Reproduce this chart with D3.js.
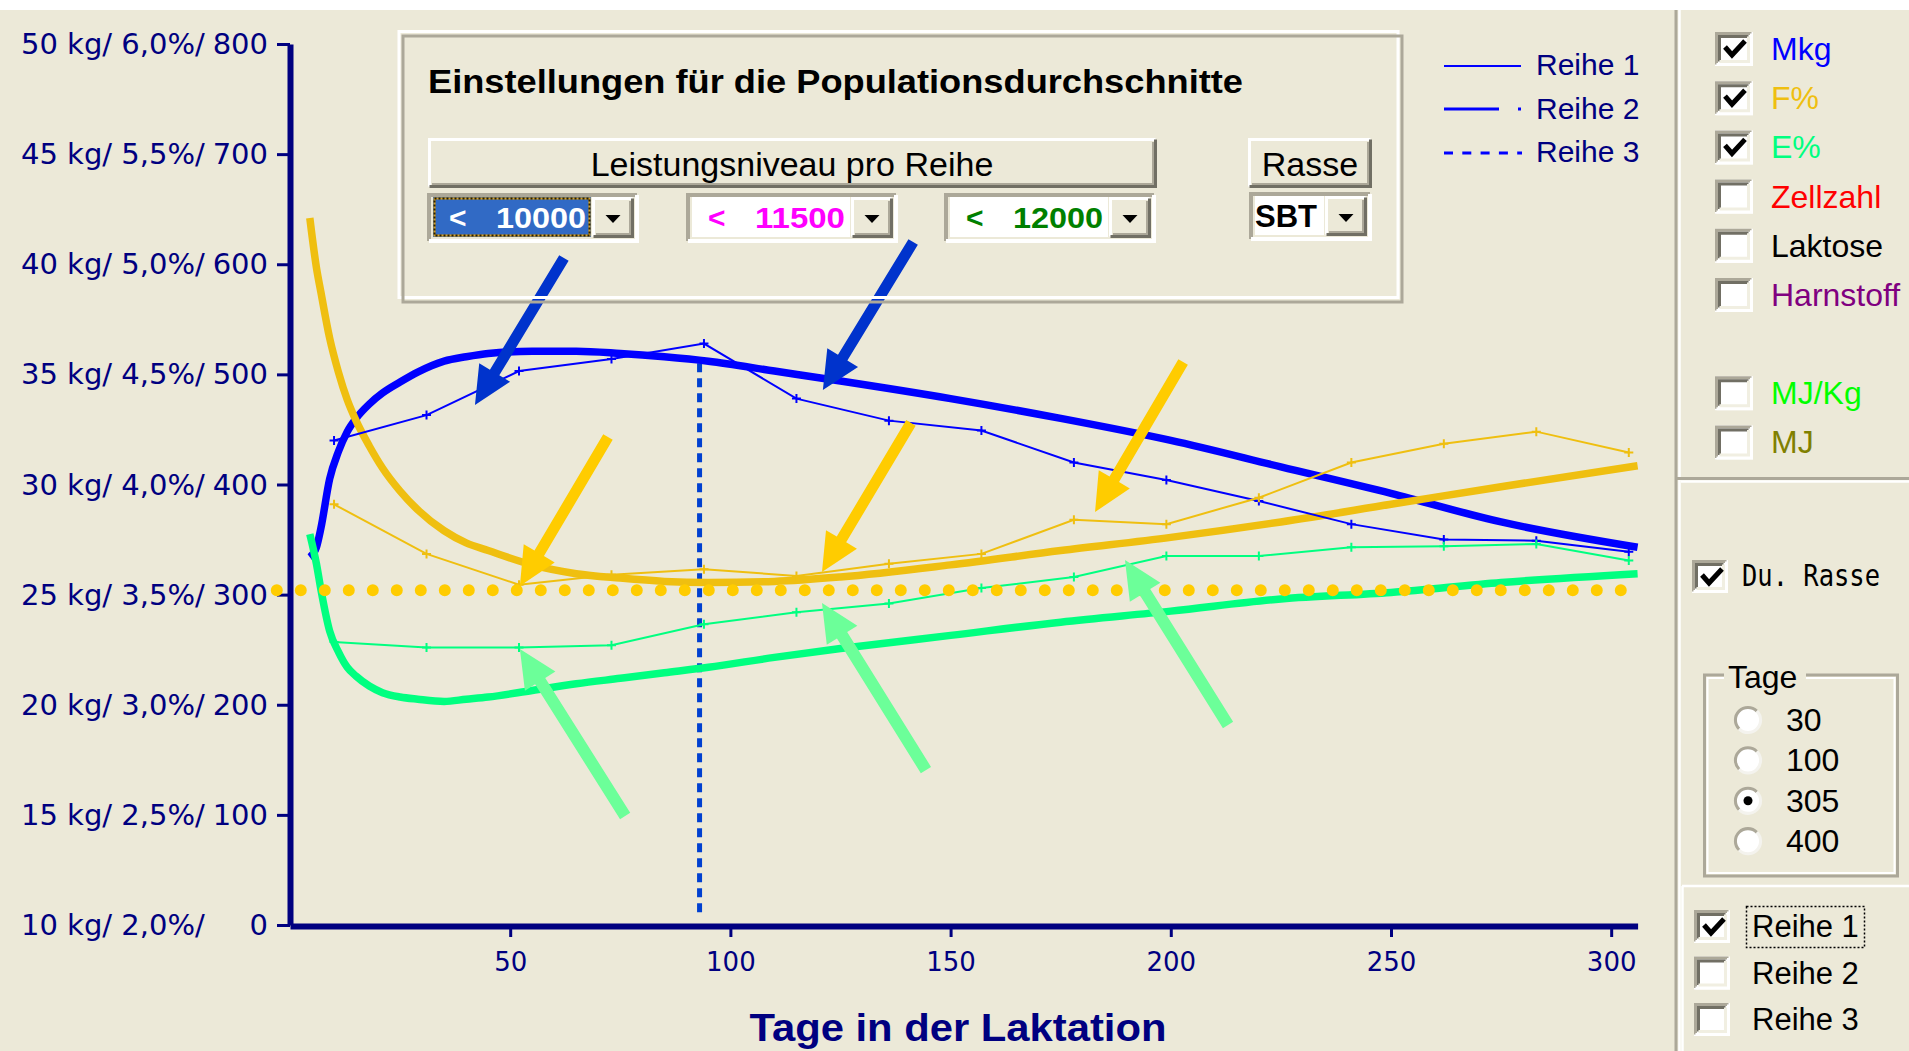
<!DOCTYPE html>
<html>
<head>
<meta charset="utf-8">
<script src="https://cdn.jsdelivr.net/npm/d3@7"></script>
<style>
  body { margin: 0; background: #ECE9D8; }
  svg { display: block; }
</style>
</head>
<body>
<div id="chart"></div>
<script>
// Reihe 1 sample days (every 21 days) and its values
const r1Days = [10, 31, 52, 73, 94, 115, 136, 157, 178, 199, 220, 241, 262, 283, 304];
const mkgR1  = [32.0, 33.15, 35.15, 35.7, 36.4, 33.9, 32.9, 32.45, 31.0, 30.2, 29.25, 28.2, 27.5, 27.45, 26.95];
const fatR1  = [3.91, 3.685, 3.545, 3.59, 3.615, 3.585, 3.64, 3.685, 3.84, 3.82, 3.94, 4.10, 4.185, 4.24, 4.145];
const protR1 = [3.285, 3.26, 3.26, 3.27, 3.365, 3.42, 3.46, 3.53, 3.58, 3.675, 3.675, 3.715, 3.72, 3.73, 3.655];

// breed average (Du. Rasse) curves
const popDays = [4.5, 6, 7, 9, 11, 13, 15, 18, 21, 25, 29, 35, 40, 45, 55, 65, 75, 85, 95, 110, 125, 150, 175, 200, 225, 250, 275, 306];
const mkgPop  = [26.7, 27.15, 28.0, 30.25, 31.5, 32.4, 33.0, 33.65, 34.15, 34.65, 35.1, 35.6, 35.8, 35.95, 36.05, 36.05, 35.95, 35.8, 35.6, 35.15, 34.7, 33.9, 33.0, 32.0, 30.8, 29.6, 28.3, 27.15];
const fatPop  = [5.21, 4.985, 4.875, 4.665, 4.51, 4.385, 4.29, 4.175, 4.075, 3.97, 3.885, 3.79, 3.735, 3.70, 3.635, 3.595, 3.575, 3.56, 3.555, 3.56, 3.58, 3.635, 3.70, 3.76, 3.83, 3.91, 3.99, 4.085];
const protPop = [3.775, 3.64, 3.525, 3.335, 3.24, 3.17, 3.13, 3.085, 3.055, 3.035, 3.025, 3.015, 3.025, 3.035, 3.065, 3.095, 3.12, 3.145, 3.17, 3.215, 3.255, 3.315, 3.375, 3.425, 3.48, 3.51, 3.555, 3.595];

// breed average fat line and the marked day
const avgFatPct = 3.52;
const avgFatDays = [-3, 305];
const markDay = 93;
const markKg = [10.45, 35.5];

// axis labels
const xTicks = [50, 100, 150, 200, 250, 300];
const yTickNum = [0, 100, 200, 300, 400, 500, 600, 700, 800];
const yTickKg = [10, 15, 20, 25, 30, 35, 40, 45, 50];
const yTickPct = ["2,0%", "2,5%", "3,0%", "3,5%", "4,0%", "4,5%", "5,0%", "5,5%", "6,0%"];

// annotation arrows [day, value, day, value] on the 0..800 scale
const arrowsBlue  = [[62.2, 605.7, 42.0, 472.2], [141.5, 620.2, 121.0, 485.8]];
const arrowsGold  = [[72.2, 443.1, 52.2, 307.8], [141.0, 455.9, 120.8, 320.5], [202.8, 511.2, 182.8, 375.0]];
const arrowsGreen = [[76.1, 99.0, 52.2, 250.6], [144.4, 140.7, 120.8, 292.4], [213.0, 181.6, 189.6, 331.4]];

// controls
const levels = ["10000", "11500", "12000"];
const levelColors = ["#FFFFFF", "#FF00FF", "#008000"];
const legendNames = ["Reihe 1", "Reihe 2", "Reihe 3"];
const seriesNames = ["Mkg", "F%", "E%", "Zellzahl", "Laktose", "Harnstoff", "MJ/Kg", "MJ"];
const seriesColors = ["#0000FF", "#EFBF10", "#00FF80", "#FF0000", "#000000", "#800080", "#00FF00", "#808000"];
const seriesChecked = [true, true, true, false, false, false, false, false];
const tageOptions = ["30", "100", "305", "400"];
const tageSelected = "305";
const reiheNames = ["Reihe 1", "Reihe 2", "Reihe 3"];
const reiheChecked = [true, false, false];

const W = 1909, H = 1051;
const navy = "#000080";
const face = "#ECE9D8", shadow = "#ACA899", dark = "#716F64";

const svg = d3.select("#chart").append("svg")
    .attr("width", W).attr("height", H)
    .style("font-family", "'Liberation Sans', Arial, sans-serif");

svg.append("rect").attr("width", W).attr("height", H).attr("fill", face);
svg.append("rect").attr("width", W).attr("height", 10).attr("fill", "#FFFFFF");

// scales
const x = d3.scaleLinear().domain([0, 306]).range([290, 1637.6]);
const y = d3.scaleLinear().domain([0, 800]).range([925, 44]);
const yKg = d3.scaleLinear().domain([10, 50]).range([925, 44]);
const yPct = d3.scaleLinear().domain([2, 6]).range([925, 44]);

// axes
const yAxis = svg.append("g")
    .attr("transform", `translate(${x(0)},0)`)
    .call(d3.axisLeft(y).tickValues(yTickNum).tickSize(13).tickSizeOuter(0).tickFormat(""));
yAxis.select(".domain").attr("stroke", navy).attr("stroke-width", 6);
yAxis.selectAll(".tick line").attr("stroke", navy).attr("stroke-width", 3);

const xAxis = svg.append("g")
    .attr("transform", `translate(0,${y(0) + 1})`)
    .call(d3.axisBottom(x).tickValues(xTicks).tickSize(11).tickSizeOuter(0));
xAxis.select(".domain").attr("stroke", navy).attr("stroke-width", 6);
xAxis.selectAll(".tick line").attr("stroke", navy).attr("stroke-width", 3);
xAxis.selectAll(".tick text")
    .attr("fill", navy).attr("y", 45).attr("dy", 0)
    .style("font-family", "'DejaVu Sans', sans-serif").style("font-size", "26px");

const yLab = svg.append("g").attr("fill", navy)
    .style("font-family", "'DejaVu Sans', sans-serif").style("font-size", "29px");
yLab.selectAll("text.l").data(yTickNum).join("text").attr("class", "l")
    .attr("x", 21).attr("y", d => y(d) + 10)
    .text((d, i) => `${yTickKg[i]} kg/ ${yTickPct[i]}/`);
yLab.selectAll("text.r").data(yTickNum).join("text").attr("class", "r")
    .attr("x", 268).attr("y", d => y(d) + 10).attr("text-anchor", "end")
    .text(d => d);

svg.append("text")
    .attr("x", 958).attr("y", 1041).attr("text-anchor", "middle")
    .attr("fill", navy).attr("font-weight", "bold").attr("font-size", 38)
    .attr("textLength", 417).attr("lengthAdjust", "spacingAndGlyphs")
    .text("Tage in der Laktation");

// marked day
svg.append("line")
    .attr("x1", x(markDay)).attr("x2", x(markDay))
    .attr("y1", yKg(markKg[1])).attr("y2", yKg(markKg[0]))
    .attr("stroke", "#0040D0").attr("stroke-width", 5).attr("stroke-dasharray", "9 6");

// curves
const mkLine = sc => d3.line().x(d => x(d[0])).y(d => sc(d[1]));
const thickSeries = [[mkgPop, yKg, "#0000FF"], [fatPop, yPct, "#EFBF10"], [protPop, yPct, "#00FF80"]];
thickSeries.forEach(([vals, sc, col]) => {
    svg.append("path")
        .datum(popDays.map((d, i) => [d, vals[i]]))
        .attr("d", mkLine(sc).curve(d3.curveMonotoneX))
        .attr("fill", "none").attr("stroke", col).attr("stroke-width", 7.5);
});

const thinSeries = [[mkgR1, yKg, "#0000FF"], [fatR1, yPct, "#EFBF10"], [protR1, yPct, "#00FF80"]];
thinSeries.forEach(([vals, sc, col]) => {
    const pts = r1Days.map((d, i) => [d, vals[i]]);
    svg.append("path").datum(pts)
        .attr("d", mkLine(sc))
        .attr("fill", "none").attr("stroke", col).attr("stroke-width", 2);
    svg.append("g").selectAll("path").data(pts).join("path")
        .attr("transform", d => `translate(${x(d[0])},${sc(d[1])})`)
        .attr("d", "M-4.5,0H4.5M0,-4.5V4.5")
        .attr("stroke", col).attr("stroke-width", 2);
});

// breed average fat, dotted
svg.append("line")
    .attr("x1", x(avgFatDays[0])).attr("x2", x(avgFatDays[1]))
    .attr("y1", yPct(avgFatPct)).attr("y2", yPct(avgFatPct))
    .attr("stroke", "#FFCC00").attr("stroke-width", 12)
    .attr("stroke-linecap", "round").attr("stroke-dasharray", "0 24");

// arrows
function arrow(a, col, w) {
    const x0 = x(a[0]), y0 = y(a[1]), x1 = x(a[2]), y1 = y(a[3]);
    const L = Math.hypot(x1 - x0, y1 - y0);
    const ux = (x1 - x0) / L, uy = (y1 - y0) / L, nx = -uy, ny = ux;
    const hl = 38, hw = 18;
    const bx = x1 - ux * hl, by = y1 - uy * hl;
    const pts = [
        [x0 + nx * w / 2, y0 + ny * w / 2], [bx + nx * w / 2, by + ny * w / 2],
        [bx + nx * hw, by + ny * hw], [x1, y1], [bx - nx * hw, by - ny * hw],
        [bx - nx * w / 2, by - ny * w / 2], [x0 - nx * w / 2, y0 - ny * w / 2]];
    svg.append("polygon").attr("points", pts.map(p => p.join(",")).join(" ")).attr("fill", col);
}
arrowsBlue.forEach(a => arrow(a, "#0033CC", 11));
arrowsGold.forEach(a => arrow(a, "#FFCC00", 11));
arrowsGreen.forEach(a => arrow(a, "#6CFF99", 12));

// ---- widgets ----
function bevel(g, x0, y0, w, h, tl, br, sw) {
    g.append("path").attr("d", `M${x0},${y0 + h}V${y0}H${x0 + w}`)
        .attr("fill", "none").attr("stroke", tl).attr("stroke-width", sw);
    g.append("path").attr("d", `M${x0},${y0 + h}H${x0 + w}V${y0}`)
        .attr("fill", "none").attr("stroke", br).attr("stroke-width", sw);
}
function button(g, x0, y0, w, h) {
    g.append("rect").attr("x", x0).attr("y", y0).attr("width", w).attr("height", h).attr("fill", face);
    bevel(g, x0 + 1.5, y0 + 1.5, w - 3, h - 3, "#FFFFFF", dark, 3);
    bevel(g, x0 + 4, y0 + 4, w - 8, h - 8, face, shadow, 2);
}
function checkbox(g, x0, y0, w, h, checked) {
    g.append("rect").attr("x", x0).attr("y", y0).attr("width", w).attr("height", h).attr("fill", "#FFFFFF");
    bevel(g, x0 + 1.5, y0 + 1.5, w - 3, h - 3, shadow, "#FFFFFF", 3);
    bevel(g, x0 + 4.5, y0 + 4.5, w - 9, h - 9, dark, "#F1EFE2", 3);
    if (checked) {
        g.append("path")
            .attr("d", `M${x0 + 10},${y0 + 15}L${x0 + 17},${y0 + 23}L${x0 + 30},${y0 + 9}`)
            .attr("fill", "none").attr("stroke", "#000").attr("stroke-width", 5);
    }
}
function combo(g, x0, y0, w, h, selected) {
    bevel(g, x0 + 2, y0 + 2, w - 4, h - 4, shadow, "#FFFFFF", 4);
    const fx = x0 + 6, fw = w - 54, fy = y0 + 4, fh = h - 10;
    g.append("rect").attr("x", fx).attr("y", fy).attr("width", fw).attr("height", fh)
        .attr("fill", selected ? "#316AC5" : "#FFFFFF");
    if (selected) {
        g.append("rect").attr("x", fx + 1.5).attr("y", fy + 1.5).attr("width", fw - 3).attr("height", fh - 3)
            .attr("fill", "none").attr("stroke", "#D8A020").attr("stroke-width", 2);
        g.append("rect").attr("x", fx + 1.5).attr("y", fy + 1.5).attr("width", fw - 3).attr("height", fh - 3)
            .attr("fill", "none").attr("stroke", "#2A2000").attr("stroke-width", 2).attr("stroke-dasharray", "2 2");
    }
    const bx = x0 + w - 47;
    button(g, bx, fy, 42, h - 9);
    const cx = bx + 21, cy = fy + 22;
    g.append("path").attr("d", `M${cx - 7.5},${cy - 4}H${cx + 7.5}L${cx},${cy + 4}Z`).attr("fill", "#000");
    return { fx, fw };
}

// settings box
const box = svg.append("g");
box.append("rect").attr("x", 399).attr("y", 31.5).attr("width", 999).attr("height", 266)
    .attr("fill", "none").attr("stroke", "#FFFFFF").attr("stroke-width", 3);
box.append("rect").attr("x", 403).attr("y", 36).attr("width", 999).attr("height", 266)
    .attr("fill", "none").attr("stroke", shadow).attr("stroke-width", 3);
box.append("text").attr("x", 428).attr("y", 93)
    .attr("font-weight", "bold").attr("font-size", 34).attr("fill", "#000")
    .attr("textLength", 815).attr("lengthAdjust", "spacingAndGlyphs")
    .text("Einstellungen für die Populationsdurchschnitte");

button(box, 428, 138, 729, 50);
box.append("text").attr("x", 792).attr("y", 176).attr("text-anchor", "middle")
    .attr("font-size", 34).attr("fill", "#000").text("Leistungsniveau pro Reihe");
button(box, 1248, 138, 124, 50);
box.append("text").attr("x", 1310).attr("y", 176).attr("text-anchor", "middle")
    .attr("font-size", 34).attr("fill", "#000").text("Rasse");

const comboX = [427, 686, 944];
levels.forEach((lv, i) => {
    const c = combo(box, comboX[i], 193, 212, 50, i === 0);
    box.append("text").attr("x", c.fx + 16).attr("y", 228).attr("font-size", 30).attr("font-weight", "bold")
        .attr("fill", levelColors[i]).text("<");
    box.append("text").attr("x", c.fx + c.fw - 5).attr("y", 228).attr("font-size", 30).attr("font-weight", "bold")
        .attr("textLength", 90).attr("lengthAdjust", "spacingAndGlyphs")
        .attr("text-anchor", "end").attr("fill", levelColors[i]).text(lv);
});
combo(box, 1249, 192, 123, 49, false);
box.append("text").attr("x", 1255).attr("y", 227).attr("font-size", 31).attr("font-weight", "bold")
    .attr("fill", "#000").text("SBT");

// legend
const leg = svg.append("g");
leg.append("line").attr("x1", 1444).attr("x2", 1521).attr("y1", 66).attr("y2", 66)
    .attr("stroke", "#0000FF").attr("stroke-width", 2);
leg.append("line").attr("x1", 1444).attr("x2", 1499).attr("y1", 109).attr("y2", 109)
    .attr("stroke", "#0000FF").attr("stroke-width", 3);
leg.append("rect").attr("x", 1518).attr("y", 107.5).attr("width", 3).attr("height", 3).attr("fill", "#0000FF");
leg.append("line").attr("x1", 1444).attr("x2", 1522).attr("y1", 153).attr("y2", 153)
    .attr("stroke", "#0000FF").attr("stroke-width", 3).attr("stroke-dasharray", "9 9.3");
leg.selectAll("text").data(legendNames).join("text")
    .attr("x", 1536).attr("y", (d, i) => 75 + i * 43.7)
    .attr("font-size", 30).attr("fill", navy).text(d => d);

// right panel
const panel = svg.append("g");
panel.append("line").attr("x1", 1676).attr("x2", 1676).attr("y1", 10).attr("y2", H)
    .attr("stroke", shadow).attr("stroke-width", 3);
panel.append("line").attr("x1", 1679.5).attr("x2", 1679.5).attr("y1", 10).attr("y2", H)
    .attr("stroke", "#FFFFFF").attr("stroke-width", 2.5);
panel.append("line").attr("x1", 1677).attr("x2", W).attr("y1", 478.5).attr("y2", 478.5)
    .attr("stroke", shadow).attr("stroke-width", 3);
panel.append("line").attr("x1", 1681).attr("x2", W).attr("y1", 481.5).attr("y2", 481.5)
    .attr("stroke", "#FFFFFF").attr("stroke-width", 2.5);
panel.append("line").attr("x1", 1682).attr("x2", W).attr("y1", 886).attr("y2", 886)
    .attr("stroke", "#FFFFFF").attr("stroke-width", 2.5);
panel.append("line").attr("x1", 1682.5).attr("x2", 1682.5).attr("y1", 886).attr("y2", H)
    .attr("stroke", "#FFFFFF").attr("stroke-width", 2.5);

seriesNames.forEach((name, i) => {
    const cy = 49 + i * 49.2 + (i >= 6 ? 49 : 0);
    checkbox(panel, 1715, cy - 17, 38, 34, seriesChecked[i]);
    panel.append("text").attr("x", 1771).attr("y", cy + 11).attr("font-size", 32)
        .attr("fill", seriesColors[i]).text(name);
});

checkbox(panel, 1692, 560, 36, 33, true);
panel.append("text").attr("x", 1742).attr("y", 586)
    .style("font-family", "'DejaVu Sans Mono', monospace").attr("font-size", 30)
    .attr("textLength", 138).attr("lengthAdjust", "spacingAndGlyphs")
    .attr("fill", "#000").text("Du. Rasse");

// Tage group
panel.append("rect").attr("x", 1704.5).attr("y", 675).attr("width", 193).attr("height", 201)
    .attr("fill", "none").attr("stroke", shadow).attr("stroke-width", 3);
panel.append("rect").attr("x", 1707.5).attr("y", 678).attr("width", 187).attr("height", 195)
    .attr("fill", "none").attr("stroke", "#FFFFFF").attr("stroke-width", 2);
panel.append("rect").attr("x", 1724).attr("y", 666).attr("width", 82).attr("height", 18).attr("fill", face);
panel.append("text").attr("x", 1728).attr("y", 688).attr("font-size", 32).attr("fill", "#000").text("Tage");

const arcTL = d3.arc().innerRadius(11).outerRadius(14).startAngle(-3 * Math.PI / 4).endAngle(Math.PI / 4);
const arcBR = d3.arc().innerRadius(11).outerRadius(14).startAngle(Math.PI / 4).endAngle(5 * Math.PI / 4);
tageOptions.forEach((t, i) => {
    const cy = 720 + i * 40.4;
    const rg = panel.append("g").attr("transform", `translate(1748,${cy})`);
    rg.append("circle").attr("r", 13).attr("fill", "#FFFFFF");
    rg.append("path").attr("d", arcTL()).attr("fill", shadow);
    rg.append("path").attr("d", arcBR()).attr("fill", "#F4F3EE");
    if (t === tageSelected) rg.append("circle").attr("r", 4.5).attr("fill", "#000");
    panel.append("text").attr("x", 1786).attr("y", cy + 11).attr("font-size", 32).attr("fill", "#000").text(t);
});

reiheNames.forEach((name, i) => {
    const top = 910 + i * 46.5;
    checkbox(panel, 1694, top, 36, 33, reiheChecked[i]);
    panel.append("text").attr("x", 1752).attr("y", top + 27).attr("font-size", 31)
        .attr("fill", "#000").text(name);
});
panel.append("rect").attr("x", 1746.5).attr("y", 906.5).attr("width", 118).attr("height", 41)
    .attr("fill", "none").attr("stroke", "#000").attr("stroke-width", 1.5).attr("stroke-dasharray", "2 2");
</script>
</body>
</html>
